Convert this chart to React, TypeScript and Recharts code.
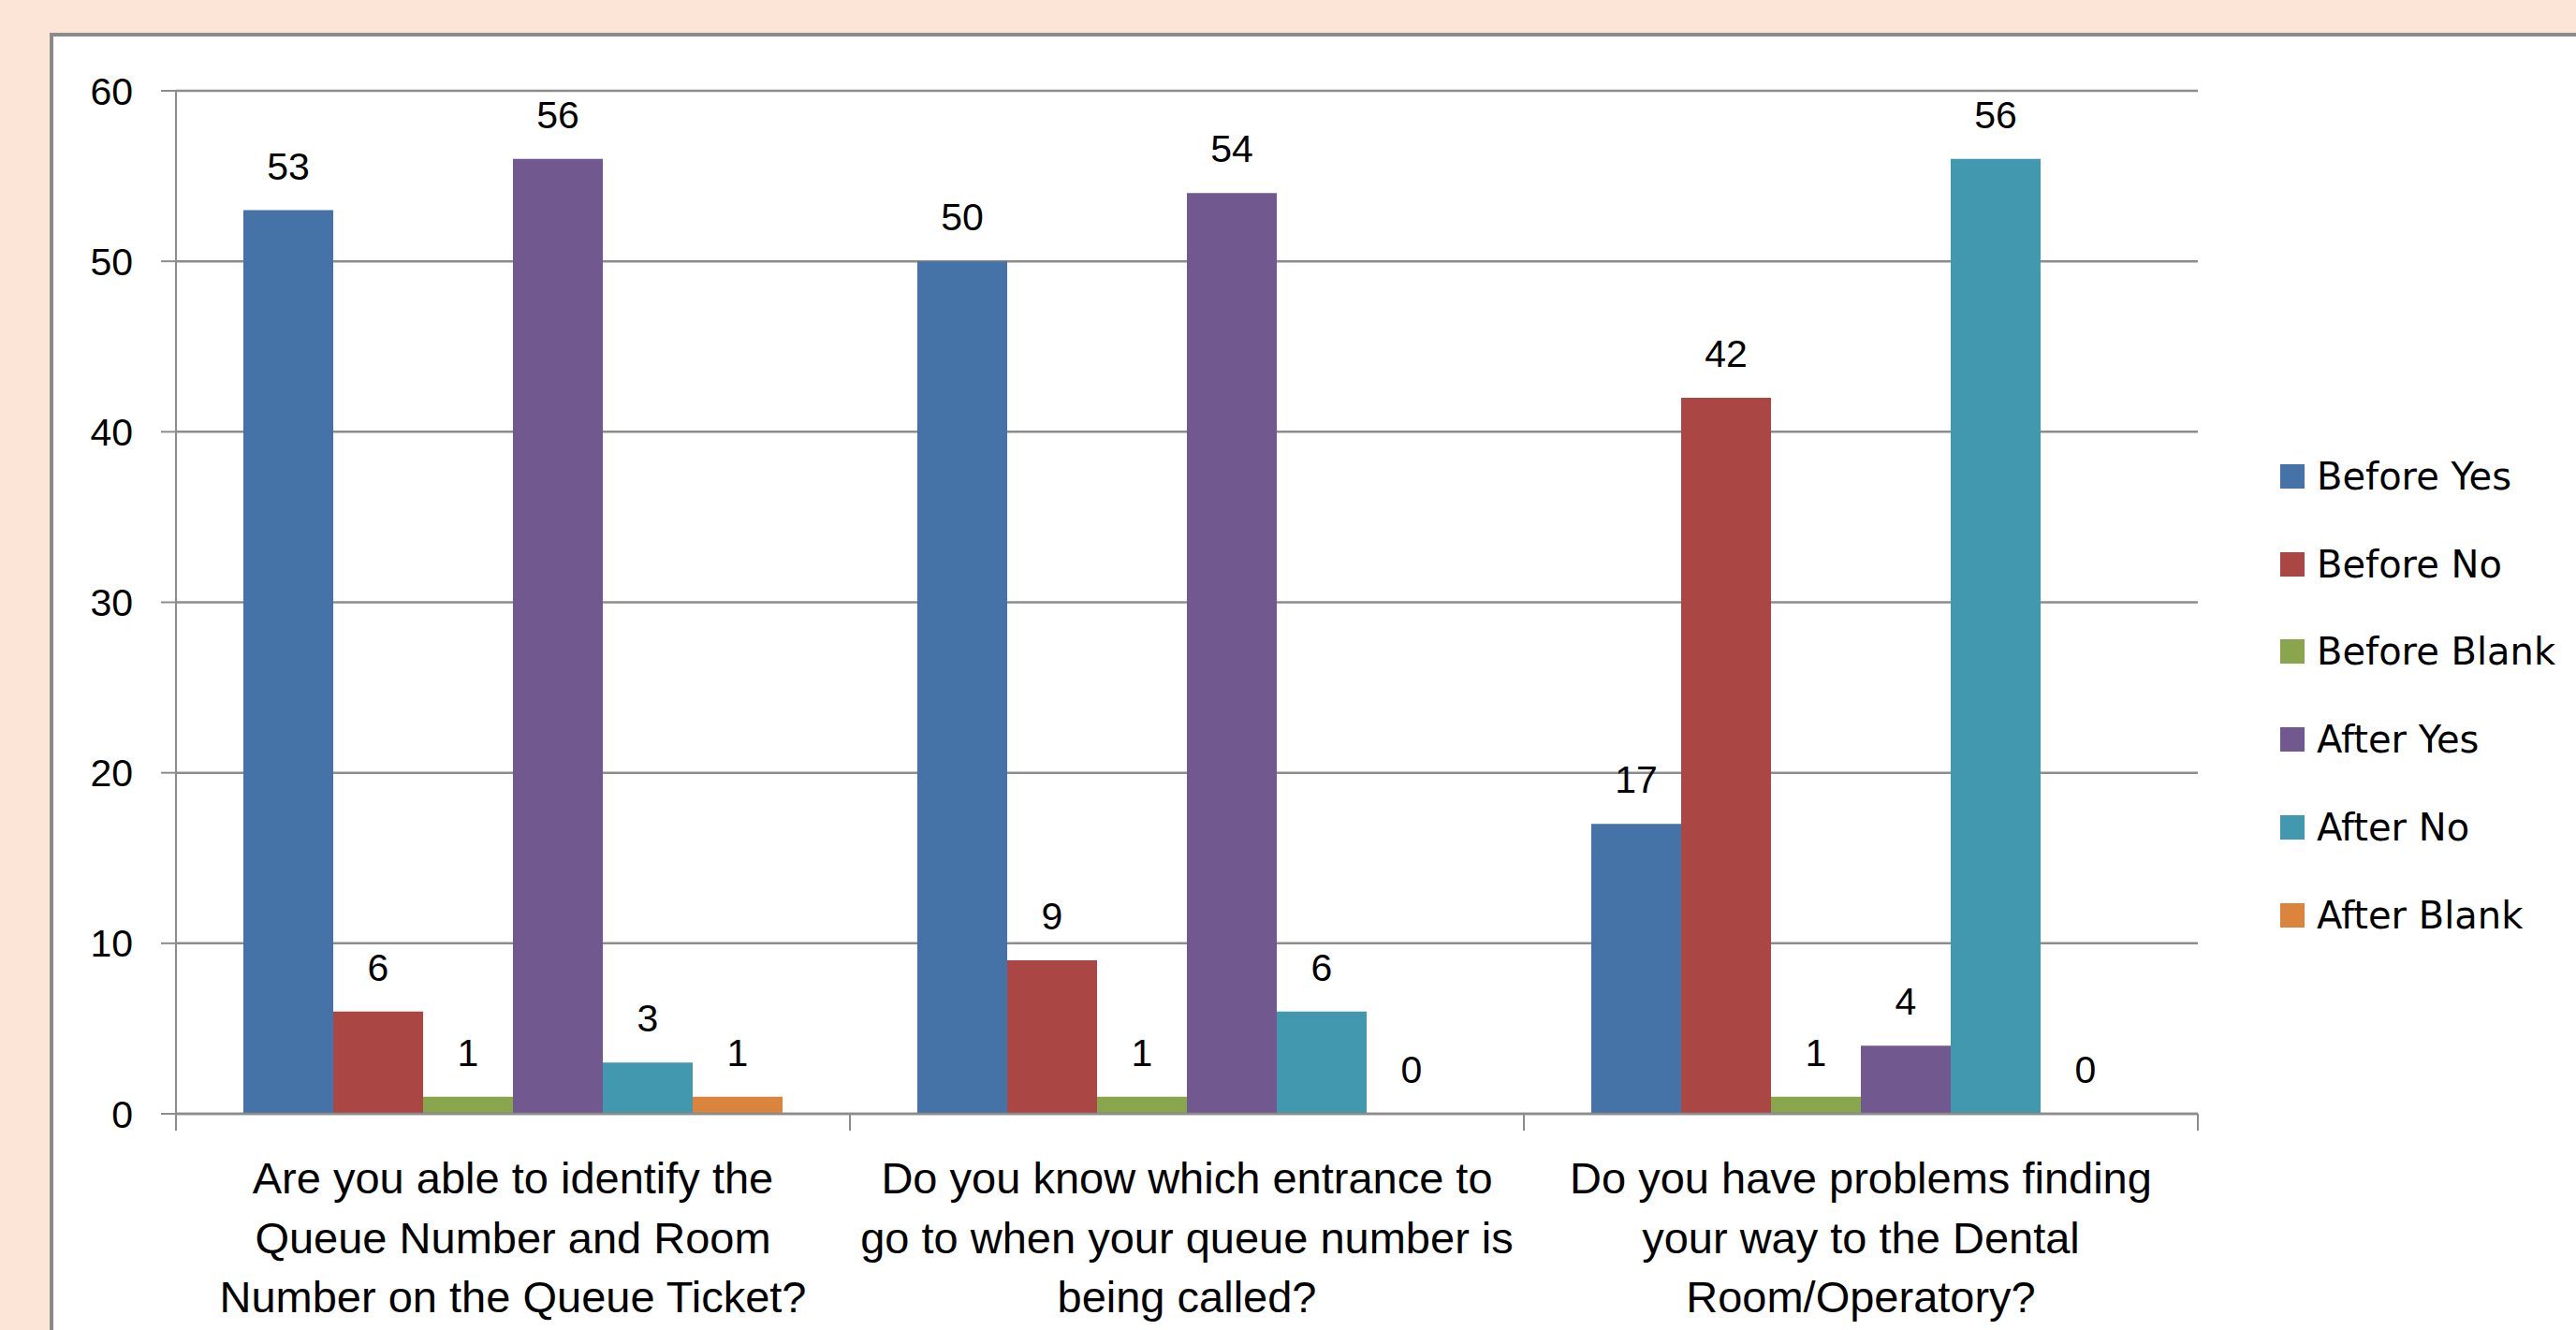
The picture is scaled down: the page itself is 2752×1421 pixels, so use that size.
import { BarChart, Bar, XAxis, YAxis, CartesianGrid, Legend, LabelList } from "recharts";

document.body.style.margin = "0";

const categories = [
  "Are you able to identify the\nQueue Number and Room\nNumber on the Queue Ticket?",
  "Do you know which entrance to\ngo to when your queue number is\nbeing called?",
  "Do you have problems finding\nyour way to the Dental\nRoom/Operatory?",
];

const beforeYes = [53, 50, 17];
const beforeNo = [6, 9, 42];
const beforeBlank = [1, 1, 1];
const afterYes = [56, 54, 4];
const afterNo = [3, 6, 56];
const afterBlank = [1, 0, 0];

const yTicks = [0, 10, 20, 30, 40, 50, 60];

const series = [
  { key: "beforeYes", name: "Before Yes", color: "#4572A7" },
  { key: "beforeNo", name: "Before No", color: "#AA4643" },
  { key: "beforeBlank", name: "Before Blank", color: "#89A54E" },
  { key: "afterYes", name: "After Yes", color: "#71588F" },
  { key: "afterNo", name: "After No", color: "#4198AF" },
  { key: "afterBlank", name: "After Blank", color: "#DB843D" },
];

const data = categories.map((name, i) => ({
  name,
  beforeYes: beforeYes[i],
  beforeNo: beforeNo[i],
  beforeBlank: beforeBlank[i],
  afterYes: afterYes[i],
  afterNo: afterNo[i],
  afterBlank: afterBlank[i],
}));

const W = 2752;
const H = 1421;
const gridColor = "#8c8c8c";
const font = "'Liberation Sans', Arial, sans-serif";

function CategoryTick(props: any) {
  const { x, y, payload, index, visibleTicksCount } = props;
  const half = payload && payload.offset ? payload.offset : 360;
  const lines = String(payload.value).split("\n");
  const isLast = index === (visibleTicksCount ?? categories.length) - 1;
  return (
    <g>
      <line x1={x - half} x2={x - half} y1={y} y2={y + 18} stroke={gridColor} strokeWidth={2} />
      {isLast && <line x1={x + half} x2={x + half} y1={y} y2={y + 18} stroke={gridColor} strokeWidth={2} />}
      <text x={x} y={y + 85} textAnchor="middle" fontFamily={font} fontSize={47} fill="#000">
        {lines.map((l, i) => (
          <tspan key={i} x={x} dy={i === 0 ? 0 : 63.5}>
            {l}
          </tspan>
        ))}
      </text>
    </g>
  );
}

function BarValueLabel(props: any) {
  const { x, y, width, value } = props;
  if (x == null || y == null) return null;
  return (
    <text x={Number(x) + Number(width) / 2} y={Number(y) - 33} textAnchor="middle" fontFamily={font} fontSize={41} fill="#000">
      {String(value)}
    </text>
  );
}

function LegendContent(props: any) {
  const items = [...(props.payload || [])].sort(
    (a: any, b: any) =>
      series.findIndex((s) => s.name === a.value) - series.findIndex((s) => s.name === b.value)
  );
  return (
    <div style={{ fontFamily: "'DejaVu Sans', Verdana, sans-serif", fontSize: 40, color: "#000" }}>
      {items.map((it: any) => (
        <div key={it.value} style={{ height: 93.8, display: "flex", alignItems: "center", whiteSpace: "nowrap" }}>
          <span style={{ width: 26, height: 26, background: it.color, display: "inline-block", marginRight: 13 }} />
          <span>{it.value}</span>
        </div>
      ))}
    </div>
  );
}

export default function App() {
  return (
    <div style={{ position: "relative", width: W, height: H, background: "#FCE4D6", overflow: "hidden" }}>
      <div
        style={{
          position: "absolute",
          left: 53,
          top: 35,
          width: 2800,
          height: 1500,
          border: "4px solid #8a8a8a",
          background: "#ffffff",
        }}
      />
      <div style={{ position: "absolute", left: 0, top: 0 }}>
        <BarChart
          width={W}
          height={H}
          data={data}
          margin={{ top: 97, right: 404, left: 0, bottom: 0 }}
          barGap={0}
          barCategoryGap="10%"
        >
          <CartesianGrid vertical={false} stroke={gridColor} strokeWidth={2.5} />
          <XAxis
            dataKey="name"
            height={231}
            tickLine={false}
            tickSize={0}
            tickMargin={0}
            axisLine={{ stroke: gridColor, strokeWidth: 2.5 }}
            tick={<CategoryTick />}
            interval={0}
          />
          <YAxis
            width={188}
            domain={[0, 60]}
            ticks={yTicks}
            interval={0}
            tickSize={16}
            tickMargin={30}
            axisLine={{ stroke: gridColor, strokeWidth: 2 }}
            tickLine={{ stroke: gridColor, strokeWidth: 2 }}
            tick={{ fontFamily: font, fontSize: 41, fill: "#000" }}
          />
          <Legend
            layout="vertical"
            align="center"
            verticalAlign="middle"
            itemSorter={null as any}
            wrapperStyle={{ left: 2436, top: 462, width: 316 }}
            content={<LegendContent />}
          />
          {series.map((s) => (
            <Bar
              key={s.key}
              dataKey={s.key}
              name={s.name}
              fill={s.color}
              minPointSize={0.01}
              isAnimationActive={false}
            >
              <LabelList dataKey={s.key} content={<BarValueLabel />} />
            </Bar>
          ))}
        </BarChart>
      </div>
    </div>
  );
}
